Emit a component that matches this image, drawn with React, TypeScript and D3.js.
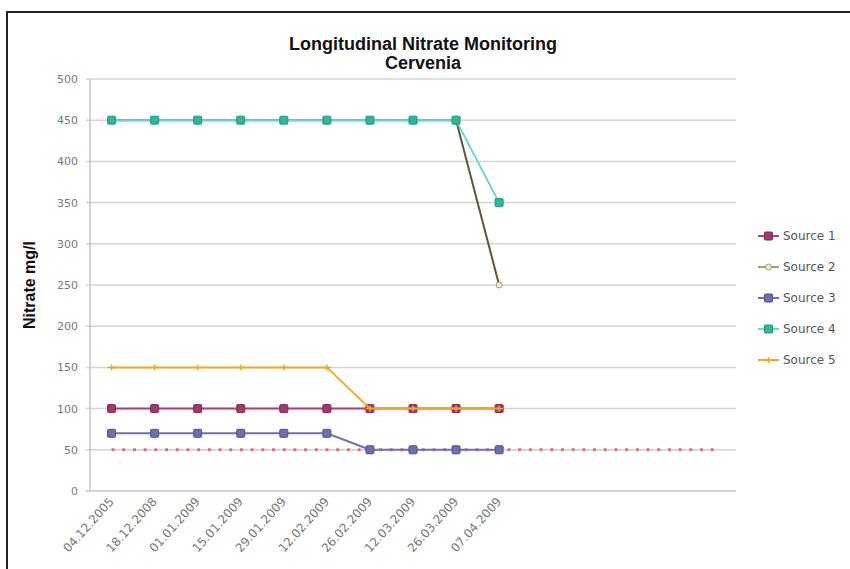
import React, { useRef, useEffect } from 'react';
import * as d3 from 'd3';

// categories (last five are empty slots on the axis)
const dates = ['04.12.2005', '18.12.2008', '01.01.2009', '15.01.2009', '29.01.2009', '12.02.2009', '26.02.2009', '12.03.2009', '26.03.2009', '07.04.2009', '', '', '', '', ''];

const source1 = [100, 100, 100, 100, 100, 100, 100, 100, 100, 100];
const source2 = [450, 450, 450, 450, 450, 450, 450, 450, 450, 250];
const source3 = [70, 70, 70, 70, 70, 70, 50, 50, 50, 50];
const source4 = [450, 450, 450, 450, 450, 450, 450, 450, 450, 350];
const source5 = [150, 150, 150, 150, 150, 150, 100, 100, 100, 100];
const limit = [50, 50, 50, 50, 50, 50, 50, 50, 50, 50, 50, 50, 50, 50, 50];

const yTicks = [0, 50, 100, 150, 200, 250, 300, 350, 400, 450, 500];

const series = [
  { name: 'Source 1', values: source1, line: '#b03f78', fill: '#a2386c', stroke: '#7e2a55', marker: 'square' },
  { name: 'Source 2', values: source2, line: '#5f5636', fill: '#efe9d6', stroke: '#a89a70', marker: 'circle', legendLine: '#a89a70' },
  { name: 'Source 3', values: source3, line: '#6f72aa', fill: '#6d6fae', stroke: '#50528a', marker: 'square' },
  { name: 'Source 4', values: source4, line: '#6dd6d2', fill: '#2fb895', stroke: '#23957a', marker: 'square' },
  { name: 'Source 5', values: source5, line: '#f6a823', fill: '#f6a823', stroke: '#f6a823', marker: 'plus' },
];

const W = 850;
const H = 569;

const App: React.FC = () => {
  const svgRef = useRef<SVGSVGElement | null>(null);

  useEffect(() => {
    if (!svgRef.current) return;
    const svg = d3.select(svgRef.current);
    svg.selectAll('*').remove();

    const margin = { left: 90, right: 114, top: 79, bottom: 78 };
    const x = d3.scaleBand<number>()
      .domain(dates.map((_, i) => i))
      .range([margin.left, W - margin.right]);
    const y = d3.scaleLinear().domain([0, 500]).range([H - margin.bottom, margin.top]);
    const cx = (i: number) => (x(i) as number) + x.bandwidth() / 2;

    svg.append('rect').attr('width', W).attr('height', H).attr('fill', '#fff');
    // outer frame
    svg.append('path')
      .attr('d', `M7,${H + 5} L7,12 L${W + 5},12`)
      .attr('fill', 'none')
      .attr('stroke', '#222')
      .attr('stroke-width', 2);

    // title
    const title = svg.append('text')
      .attr('text-anchor', 'middle')
      .style('font-family', '"Liberation Sans", Arial, sans-serif')
      .style('font-weight', 'bold')
      .style('font-size', '18px')
      .attr('fill', '#111');
    title.append('tspan').attr('x', 423).attr('y', 50).text('Longitudinal Nitrate Monitoring');
    title.append('tspan').attr('x', 423).attr('y', 69).text('Cervenia');

    // gridlines
    svg.append('g').selectAll('line')
      .data(yTicks.filter(t => t > 0))
      .join('line')
      .attr('x1', margin.left - 4)
      .attr('x2', W - margin.right)
      .attr('y1', d => y(d))
      .attr('y2', d => y(d))
      .attr('stroke', '#d4d4d4')
      .attr('stroke-width', 1.5);

    // axes
    svg.append('line')
      .attr('x1', margin.left).attr('x2', margin.left)
      .attr('y1', y(500)).attr('y2', y(0))
      .attr('stroke', '#c4c4c4').attr('stroke-width', 1.5);
    svg.append('line')
      .attr('x1', margin.left - 4).attr('x2', W - margin.right)
      .attr('y1', y(0)).attr('y2', y(0))
      .attr('stroke', '#c4c4c4').attr('stroke-width', 1.5);

    const tickFont = '"DejaVu Sans", Verdana, sans-serif';
    svg.append('g').selectAll('text')
      .data(yTicks)
      .join('text')
      .attr('x', margin.left - 12)
      .attr('y', d => y(d) + 4)
      .attr('text-anchor', 'end')
      .style('font-family', tickFont)
      .style('font-size', '11px')
      .attr('fill', '#777')
      .text(d => d);

    svg.append('g').selectAll('text')
      .data(dates)
      .join('text')
      .attr('text-anchor', 'end')
      .attr('transform', (_, i) => `translate(${cx(i) + 3},${y(0) + 11}) rotate(-48)`)
      .style('font-family', tickFont)
      .style('font-size', '12px')
      .attr('fill', '#777')
      .text(d => d);

    svg.append('text')
      .attr('transform', `translate(35,${(y(0) + y(500)) / 2}) rotate(-90)`)
      .attr('text-anchor', 'middle')
      .style('font-family', '"Liberation Sans", Arial, sans-serif')
      .style('font-weight', 'bold')
      .style('font-size', '16px')
      .attr('fill', '#111')
      .text('Nitrate mg/l');

    // limit line at 50 (dotted)
    const limitLine = d3.line<number>().x((_, i) => cx(i)).y(d => y(d));
    svg.append('path')
      .attr('d', limitLine(limit))
      .attr('fill', 'none')
      .attr('stroke', '#eec3b4')
      .attr('stroke-width', 1.5)
      .attr('stroke-dasharray', '4 6.7')
      .attr('stroke-dashoffset', -4);
    svg.append('path')
      .attr('d', limitLine(limit))
      .attr('fill', 'none')
      .attr('stroke', '#d27288')
      .attr('stroke-width', 3)
      .attr('stroke-dasharray', '3 7.7');

    const drawMarker = (g: d3.Selection<SVGGElement, unknown, null, undefined>, s: typeof series[number], px: number, py: number) => {
      if (s.marker === 'square') {
        g.append('rect')
          .attr('x', px - 4).attr('y', py - 4)
          .attr('width', 8).attr('height', 8)
          .attr('rx', 1)
          .attr('fill', s.fill)
          .attr('stroke', s.stroke)
          .attr('stroke-width', 1);
      } else if (s.marker === 'circle') {
        g.append('circle')
          .attr('cx', px).attr('cy', py).attr('r', 3)
          .attr('fill', s.fill)
          .attr('stroke', s.stroke)
          .attr('stroke-width', 1);
      } else {
        g.append('path')
          .attr('d', `M${px - 4},${py} L${px + 4},${py} M${px},${py - 3} L${px},${py + 3}`)
          .attr('stroke', s.fill)
          .attr('stroke-width', 1.5);
      }
    };

    const line = d3.line<number>().x((_, i) => cx(i)).y(d => y(d));
    series.forEach(s => {
      const g = svg.append('g');
      g.append('path')
        .attr('d', line(s.values))
        .attr('fill', 'none')
        .attr('stroke', s.line)
        .attr('stroke-width', 2);
      s.values.forEach((v, i) => drawMarker(g, s, cx(i), y(v)));
    });

    // legend
    const legend = svg.append('g').attr('transform', 'translate(758,236)');
    series.forEach((s, i) => {
      const item = legend.append('g').attr('transform', `translate(0,${i * 31})`);
      item.append('line')
        .attr('x1', 0).attr('x2', 21)
        .attr('stroke', s.legendLine || s.line)
        .attr('stroke-width', 2);
      drawMarker(item, s, 10.5, 0);
      item.append('text')
        .attr('x', 25)
        .attr('y', 4)
        .style('font-family', tickFont)
        .style('font-size', '12px')
        .attr('fill', '#555')
        .text(s.name);
    });
  }, []);

  return (
    <svg
      ref={svgRef}
      width={W}
      height={H}
      style={{ position: 'absolute', left: 0, top: 0, display: 'block' }}
    />
  );
};

export default App;
